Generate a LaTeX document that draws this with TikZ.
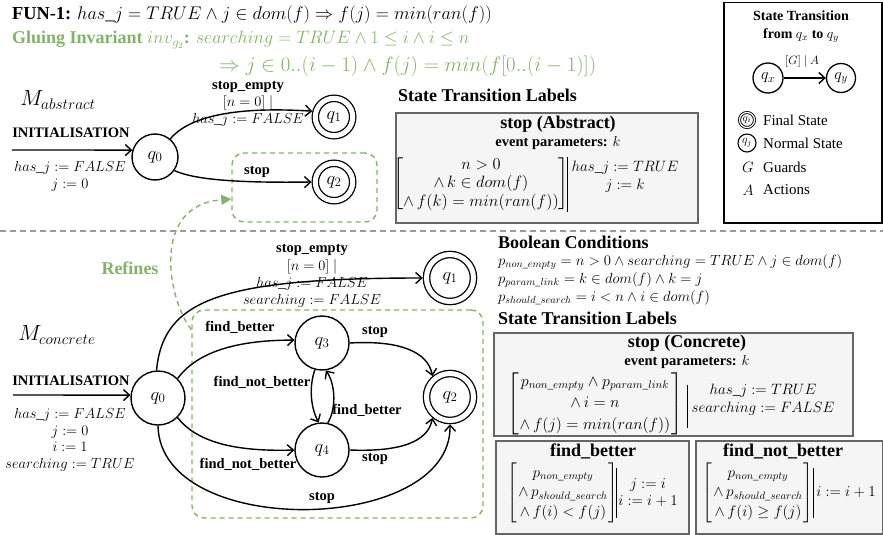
\RequirePackage{fix-cm}
\documentclass[tikz,border=0pt]{standalone}
\usepackage{amsmath}
\usepackage{fontspec}
\setmainfont{Liberation Serif}
\usetikzlibrary{arrows.meta}
\definecolor{gluegreen}{HTML}{82B366}
\definecolor{boxfill}{HTML}{F5F5F5}
\definecolor{boxline}{HTML}{666666}
\definecolor{sepgray}{HTML}{9A9A9A}
\newcommand{\fsz}[2]{\fontsize{#1}{#2}\selectfont}
\newcommand{\hj}{has\_j}
\newcommand{\cmat}[2]{\left[\begin{array}{@{\hspace{#1}}c@{\hspace{#1}}}#2\end{array}\right]}
\tikzset{
  stnode/.style={circle, draw, line width=1.4pt, inner sep=0pt, fill=white, font=\fsz{18.5}{20}},
  stc/.style={stnode, minimum size=54pt},
  sta/.style={stnode, minimum size=46pt},
  finc/.style={stnode, double, double distance=5pt, line width=1.3pt, minimum size=47pt, outer sep=3.8pt},
  fina/.style={finc, minimum size=37.4pt},
  trans/.style={line width=1.4pt, -{Straight Barb[length=6pt,width=11pt]}},
  elbl/.style={font=\bfseries\fsz{14.5}{17}, inner sep=0pt},
  mlbl/.style={font=\fsz{14.5}{16.7}, inner sep=0pt, align=center},
  heading/.style={font=\bfseries\fsz{18}{21}, inner sep=0pt, anchor=west},
  tbox/.style={draw=boxline, fill=boxfill, line width=1.5pt, inner sep=0pt, anchor=north west},
  boxtitle/.style={font=\bfseries\fsz{18}{21}, inner sep=0pt},
  gbox/.style={draw=gluegreen, dash pattern=on 5pt off 4pt, line width=1.4pt, rounded corners=12pt, inner sep=0pt},
  matx/.style={inner sep=0pt},
  sepbar/.style={line width=0.7pt},
  act/.style={font=\fsz{15}{17.5}, inner sep=0pt, align=center},
  legtxt/.style={font=\fsz{15}{17}, inner sep=0pt, anchor=west},
}
\begin{document}
\begin{tikzpicture}[x=1pt,y=-1pt]
\useasboundingbox (0,0) rectangle (883,535);
% ---------------- header
\node[anchor=west, inner sep=0pt, font=\fsz{18.3}{22}] (fun) at (12,15)
  {\textbf{FUN-1:} $\hj = TRUE \wedge j \in dom(f) \Rightarrow f(j) = min(ran(f))$};
\node[anchor=west, inner sep=0pt, font=\fsz{18}{22}, text=gluegreen] (glue) at (12,40)
  {\textbf{Gluing Invariant} $inv_{g_2}$\textbf{:} $searching = TRUE \wedge 1 \le i \wedge i \le n$};
\node[anchor=west, inner sep=0pt, font=\fsz{20.8}{24}, text=gluegreen] (glue2) at (219,66)
  {$\Rightarrow j \in 0..(i-1) \wedge f(j) = min(f[0..(i-1)])$};
% ---------------- abstract machine
\node[inner sep=0pt, font=\fsz{22}{26}] (mabs) at (58,100) {$M_{abstract}$};
\node[gbox, minimum width=145pt, minimum height=69pt] (arefbox) at (304.5,187.5) {};
\node[sta] (aq0) at (155,157) {$q_0$};
\node[fina] (aq1) at (334,117) {$q_1$};
\node[fina] (aq2) at (334,182) {$q_2$};
\coordinate (ainit) at (12,150);
\draw[trans] (ainit) -- (aq0.163);
\node[elbl] (ainitlbl) at (71,133) {INITIALISATION};
\node[mlbl] (ainitact) at (70,176.5) {$\hj := FALSE$\\$j := 0$};
\draw[trans] (aq0.50) .. controls (188,118) and (230,106) .. (aq1.165);
\node[mlbl] (aselbl) at (248,104) {\textbf{stop\_empty}\\$[n = 0]\ |$\\$\hj := FALSE$};
\draw[trans] (aq0.-35) .. controls (195,180) and (240,183) .. (aq2.west);
\node[elbl] (astoplbl) at (257,172) {stop};
% ---------------- legend
\node[draw, line width=1.5pt, minimum width=158pt, minimum height=220pt, anchor=north west] (legend) at (723,2) {};
\node[font=\bfseries\fsz{14}{18}, align=center, inner sep=0pt] (legtitle) at (801,27) {State Transition\\from $q_x$ to $q_y$};
\node[circle, draw, line width=1.3pt, minimum size=30pt, inner sep=0pt, font=\fsz{16}{18}] (lqx) at (768,78) {$q_x$};
\node[circle, draw, line width=1.3pt, minimum size=29pt, inner sep=0pt, font=\fsz{16}{18}] (lqy) at (841,78) {$q_y$};
\draw[trans] (lqx) -- (lqy);
\node[inner sep=0pt, font=\fsz{12}{14}] (lga) at (802,62) {$[G]\ |\ A$};
\node[circle, draw, double, double distance=1.2pt, line width=0.9pt, minimum size=15pt, inner sep=0pt, font=\fsz{11}{12}] (lfin) at (747,120) {$q_i$};
\node[legtxt] (lfintxt) at (763,120) {Final State};
\node[circle, draw, line width=1.1pt, minimum size=18pt, inner sep=0pt, font=\fsz{12}{13}] (lnorm) at (747,143) {$q_j$};
\node[legtxt] (lnormtxt) at (763,143) {Normal State};
\node[inner sep=0pt, font=\fsz{15}{17}] (lg) at (748,167) {$G$};
\node[legtxt] (lgtxt) at (763,167) {Guards};
\node[inner sep=0pt, font=\fsz{15}{17}] (la) at (748,190) {$A$};
\node[legtxt] (latxt) at (763,190) {Actions};
% ---------------- abstract transition label box
\node[heading] (astl) at (398,95) {State Transition Labels};
\node[tbox, minimum width=302pt, minimum height=110pt] (absbox) at (395,112) {};
\node[boxtitle] (absttl) at (558,124) {stop (Abstract)};
\node[elbl] (absparam) at (558,143) {event parameters: $k$};
\node[matx, font=\fsz{16.4}{18.5}] (absmat) at (481,184) {$\cmat{0pt}{n > 0\\ \wedge\, k \in dom(f)\\ \wedge\, f(k) = min(ran(f))}$};
\draw[sepbar] (567,157) -- (567,212);
\node[act] (absact) at (625,176.5) {$\hj := TRUE$\\$j := k$};
% ---------------- separator
\draw[sepgray, line width=1.3pt, dash pattern=on 6pt off 4pt] (0,231) -- (883,231);
% ---------------- concrete machine
\node[inner sep=0pt, font=\fsz{22}{26}] (mcon) at (57,335) {$M_{concrete}$};
\node[gbox, minimum width=291pt, minimum height=208pt] (crefbox) at (337.5,414) {};
\draw[draw=gluegreen, line width=1.4pt, dash pattern=on 5pt off 4pt, -{Triangle[length=10pt,width=10pt]}]
  (crefbox.150.6) .. controls (168,300) and (150,205) .. (arefbox.189.8);
\node[font=\bfseries\fsz{18}{21}, text=gluegreen, inner sep=0pt] (refines) at (130,268) {Refines};
\node[stc] (cq0) at (158,398) {$q_0$};
\node[finc] (cq1) at (450,278) {$q_1$};
\node[finc] (cq2) at (450,397) {$q_2$};
\node[stc] (cq3) at (322,343) {$q_3$};
\node[stc] (cq4) at (322,450) {$q_4$};
\coordinate (cinit) at (13,395);
\draw[trans] (cinit) -- (cq0.174);
\node[elbl] (cinitlbl) at (71,381) {INITIALISATION};
\node[mlbl] (cinitact) at (70,440) {$\hj := FALSE$\\$j := 0$\\$i := 1$\\$searching := TRUE$};
\draw[trans] (cq0.93) .. controls (163,300) and (220,278) .. (cq1.180);
\node[mlbl, font=\fsz{14.5}{17.3}] (cselbl) at (312,276) {\textbf{stop\_empty}\\$[n = 0]\ |$\\$\hj := FALSE$\\$searching := FALSE$};
\draw[trans] (cq0.45) .. controls (195,355) and (230,340) .. (cq3.174);
\node[elbl] (cfb1) at (240,327) {find\_better};
\draw[trans] (cq0.-45) .. controls (195,440) and (230,452) .. (cq4.west);
\node[elbl] (cfnb1) at (248,464) {find\_not\_better};
\draw[trans] (cq3.-105) .. controls (308,390) and (312,410) .. (cq4.97);
\node[elbl] (cfnb2) at (262,382) {find\_not\_better};
\draw[trans] (cq4.78) .. controls (336,410) and (336,385) .. (cq3.-82);
\node[elbl] (cfb2) at (367,410) {find\_better};
\draw[trans] (cq3.east) .. controls (400,340) and (428,352) .. (cq2.130);
\node[elbl] (cstop1) at (375,332) {stop};
\draw[trans] (cq4.east) .. controls (400,452) and (428,442) .. (cq2.-130);
\node[elbl] (cstop2) at (375,459) {stop};
\draw[trans] (cq0.-90) .. controls (160,540) and (452,535) .. (cq2.-90);
\node[elbl] (cstop3) at (322,498) {stop};
% ---------------- boolean conditions
\node[heading] (boolhd) at (498,242) {Boolean Conditions};
\node[anchor=west, inner sep=0pt, font=\fsz{14.7}{17}] (pne) at (498,262) {$p_{non\_empty} = n > 0 \wedge searching = TRUE \wedge j \in dom(f)$};
\node[anchor=west, inner sep=0pt, font=\fsz{14.7}{17}] (ppl) at (498,280) {$p_{param\_link} = k \in dom(f) \wedge k = j$};
\node[anchor=west, inner sep=0pt, font=\fsz{14.7}{17}] (pss) at (498,298) {$p_{should\_search} = i < n \wedge i \in dom(f)$};
% ---------------- concrete transition labels
\node[heading] (cstl) at (498,318) {State Transition Labels};
\node[tbox, minimum width=359pt, minimum height=103pt] (conbox) at (493,332) {};
\node[boxtitle] (conttl) at (687,343) {stop (Concrete)};
\node[elbl] (conparam) at (687,362) {event parameters: $k$};
\node[matx, font=\fsz{16}{21.5}] (conmat) at (595,403.5) {$\cmat{1pt}{p_{non\_empty} \wedge p_{param\_link}\\ \wedge\, i = n\\ \wedge\, f(j) = min(ran(f))}$};
\draw[sepbar] (687,385) -- (687,428);
\node[act] (conact) at (763,399.5) {$\hj := TRUE$\\$searching := FALSE$};
\node[tbox, minimum width=193pt, minimum height=93pt] (fbbox) at (495,440) {};
\node[boxtitle] (fbttl) at (593,451) {find\_better};
\node[matx, font=\fsz{15.3}{19.5}] (fbmat) at (563,493) {$\cmat{1pt}{p_{non\_empty}\\ \wedge\, p_{should\_search}\\ \wedge\, f(i) < f(j)}$};
\draw[sepbar] (616,468) -- (616,518);
\node[act] (fbact) at (648,492.5) {$j := i$\\$i := i + 1$};
\node[tbox, minimum width=187pt, minimum height=93pt] (fnbbox) at (695,440) {};
\node[boxtitle] (fnbttl) at (783,451) {find\_not\_better};
\node[matx, font=\fsz{15.3}{19.5}] (fnbmat) at (758,493) {$\cmat{1pt}{p_{non\_empty}\\ \wedge\, p_{should\_search}\\ \wedge\, f(i) \ge f(j)}$};
\draw[sepbar] (813,468) -- (813,518);
\node[act] (fnbact) at (846,492) {$i := i + 1$};
\end{tikzpicture}
\end{document}
